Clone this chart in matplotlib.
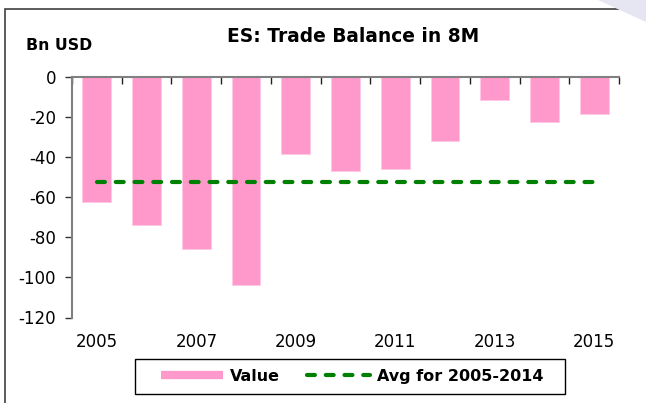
import matplotlib
matplotlib.use("Agg")
import matplotlib.pyplot as plt
from matplotlib.lines import Line2D
from matplotlib.patches import Rectangle, Polygon
import numpy as np

# --- data ---
years = [2005, 2006, 2007, 2008, 2009, 2010, 2011, 2012, 2013, 2014, 2015]
values = [-62.3, -74.0, -85.7, -103.6, -38.8, -47.2, -46.2, -32.2, -11.5, -22.6, -18.8]
avg_years = (2005, 2014)
yticks = [0, -20, -40, -60, -80, -100, -120]

pink = "#FF99CC"
green = "#008000"

W, H = 646, 403
fig = plt.figure(figsize=(W / 100, H / 100), dpi=100)

# plot area in pixel coords -> figure fractions
left, right, top, bottom = 72, 619, 76.5, 317.5
ax = fig.add_axes([left / W, 1 - bottom / H, (right - left) / W, (bottom - top) / H])

x = np.arange(len(years))
ax.bar(x, values, width=0.58, color=pink, edgecolor="#FFC8E4", linewidth=0.6, zorder=2)

i0 = years.index(avg_years[0])
i1 = years.index(avg_years[1])
avg = np.mean(values[i0:i1 + 1])
ax.plot(x, [avg] * len(x), color=green, lw=3, dashes=(1.9, 2.6),
        dash_capstyle="round", zorder=3)

ax.set_xlim(-0.5, len(years) - 0.5)
ax.set_ylim(-120, 0)

# y axis
ax.set_yticks(yticks)
ax.set_yticklabels([str(v) for v in yticks])
ax.tick_params(axis="y", direction="out", length=5, width=1, color="#333333",
               pad=6.5, labelsize=12)

# x axis: boundary ticks on the zero line, labels below the plot
ax.set_xticks(x[::2])
ax.set_xticklabels([str(y) for y in years[::2]])
ax.set_xticks(np.arange(len(years) + 1) - 0.5, minor=True)
ax.tick_params(axis="x", which="major", bottom=True, top=False, length=0,
               pad=11, labelsize=12)
ax.tick_params(axis="x", which="minor", bottom=False, top=True, direction="in",
               length=5, width=1, color="#222222")

for s in ["right", "bottom"]:
    ax.spines[s].set_visible(False)
for s in ["left", "top"]:
    ax.spines[s].set_color("#808080")
    ax.spines[s].set_linewidth(1.5)

# titles
fig.text(353.5 / W, 1 - 36 / H, "ES: Trade Balance in 8M", ha="center", va="center",
         fontsize=13.4, fontweight="bold")
fig.text(26 / W, 1 - 45 / H, "Bn USD", ha="left", va="center",
         fontsize=11.3, fontweight="bold")

# legend (box drawn separately to match its width)
fig.patches.append(Rectangle((135 / W, 1 - 394 / H), (565 - 135) / W, 35 / H,
                             transform=fig.transFigure, fill=False,
                             edgecolor="black", lw=1))
handles = [Line2D([], [], color=pink, lw=6, solid_capstyle="butt"),
           Line2D([], [], color=green, lw=3, dashes=(1.9, 2.6), dash_capstyle="round")]
leg = fig.legend(handles, ["Value", "Avg for 2005-2014"], loc="center",
                 bbox_to_anchor=(352 / W, 1 - 376.5 / H), ncol=2, frameon=False,
                 handlelength=3.9, handletextpad=0.45, columnspacing=1.7,
                 prop={"size": 11.5, "weight": "bold"})

# outer frame and corner decoration
fig.patches.append(Rectangle((5 / W, -0.1), 1.2, 1 - 9 / H + 0.1,
                             transform=fig.transFigure, fill=False,
                             edgecolor="#404040", lw=1.2))
fig.patches.append(Polygon([(598 / W, 1), (1, 1), (1, 1 - 22 / H)], closed=True,
                           transform=fig.transFigure, facecolor="#E6E6F2",
                           edgecolor="none", zorder=5))

fig.savefig("out.png", dpi=100)
